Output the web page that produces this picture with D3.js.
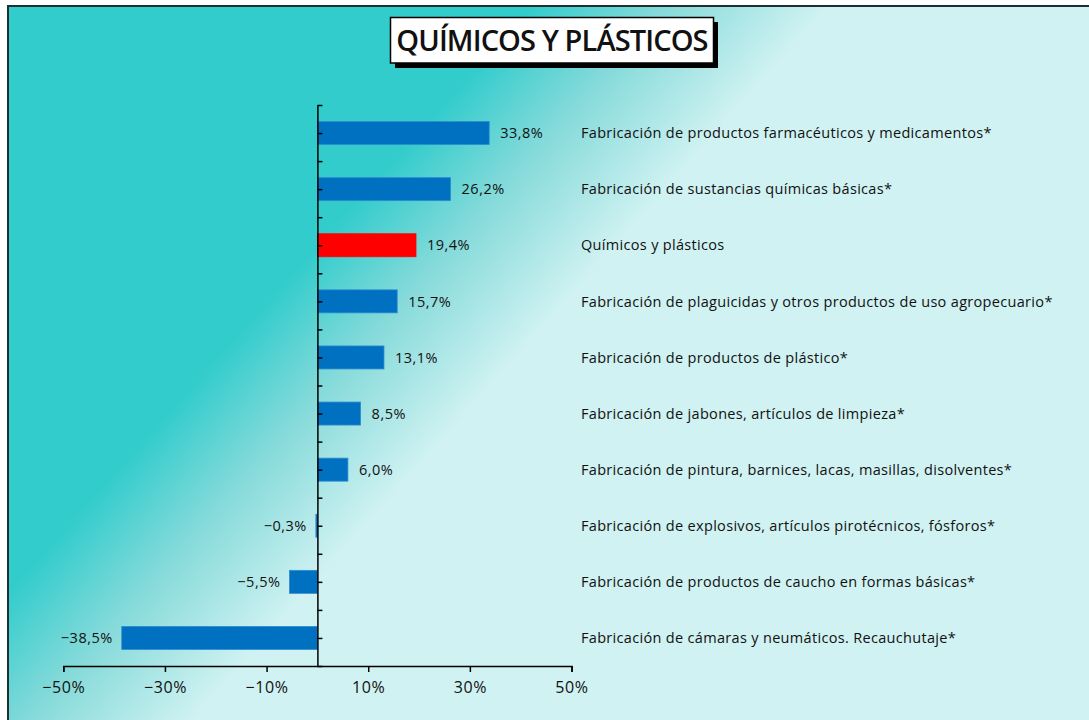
<!DOCTYPE html>
<html>
<head>
<meta charset="utf-8">
<script src="https://cdn.jsdelivr.net/npm/d3@7/dist/d3.min.js"></script>
<style>
  html, body { margin: 0; padding: 0; background: #fff; }
  svg { display: block; }
  text { font-family: "Open Sans", "Noto Sans", sans-serif; fill: #111; }
</style>
</head>
<body>
<svg id="chart" width="1089" height="720"></svg>
<script>
const categories = [
  "Fabricación de productos farmacéuticos y medicamentos*",
  "Fabricación de sustancias químicas básicas*",
  "Químicos y plásticos",
  "Fabricación de plaguicidas y otros productos de uso agropecuario*",
  "Fabricación de productos de plástico*",
  "Fabricación de jabones, artículos de limpieza*",
  "Fabricación de pintura, barnices, lacas, masillas, disolventes*",
  "Fabricación de explosivos, artículos pirotécnicos, fósforos*",
  "Fabricación de productos de caucho en formas básicas*",
  "Fabricación de cámaras y neumáticos. Recauchutaje*"
];
const values = [33.8, 26.2, 19.4, 15.7, 13.1, 8.5, 6.0, -0.3, -5.5, -38.5];
const highlighted = ["Químicos y plásticos"];
const xTicks = [-50, -30, -10, 10, 30, 50];
const title = "QUÍMICOS Y PLÁSTICOS";

const W = 1089, H = 720;
const svg = d3.select("#chart");
const defs = svg.append("defs");

const grad = defs.append("linearGradient")
  .attr("id", "bg").attr("gradientUnits", "userSpaceOnUse")
  .attr("x1", 300).attr("y1", 266).attr("x2", 466).attr("y2", 414);
grad.append("stop").attr("offset", 0).attr("stop-color", "#33CCCC");
grad.append("stop").attr("offset", 0.45).attr("stop-color", "#86DADA");
grad.append("stop").attr("offset", 1).attr("stop-color", "#D0F2F2");

// background
svg.append("rect").attr("x", 8).attr("y", 6).attr("width", W - 8).attr("height", H - 6)
  .attr("fill", "url(#bg)");
svg.append("path").attr("d", `M8,${H} L8,6 L${W},6`).attr("fill", "none")
  .attr("stroke", "#1f2f2f").attr("stroke-width", 2);

const fmt = d3.formatLocale({decimal: ",", thousands: ".", grouping: [3], currency: ["", ""], minus: "\u2212"});
const fmtVal = fmt.format(".1f");
const fmtTick = fmt.format("d");

const x = d3.scaleLinear().domain([-50, 50]).range([63.3, 571.5]);
const y = d3.scaleBand().domain(categories).range([105, 666]).paddingInner(0.59).paddingOuter(0.295);
const yTicks = d3.scaleLinear().domain([0, categories.length]).range([105, 666]);

// bars
svg.append("g").selectAll("rect").data(values).join("rect")
  .attr("x", d => x(Math.min(0, d)))
  .attr("width", d => Math.abs(x(d) - x(0)))
  .attr("y", (d, i) => y(categories[i]))
  .attr("height", y.bandwidth())
  .attr("fill", (d, i) => highlighted.includes(categories[i]) ? "#FF0000" : "#0070C0")
  .attr("stroke", (d, i) => highlighted.includes(categories[i]) ? "#FF0000" : "#2f8bd0")
  .attr("stroke-width", 0.8);

// x axis
const xAxis = svg.append("g").attr("transform", "translate(0,666)")
  .call(d3.axisBottom(x).tickValues(xTicks).tickSize(6).tickSizeOuter(6).tickPadding(10)
    .tickFormat(d => fmtTick(d) + "%"));
xAxis.select(".domain").attr("stroke", "#000").attr("stroke-width", 1.5);
xAxis.selectAll(".tick line").attr("stroke", "#000").attr("stroke-width", 1.5);
xAxis.selectAll(".tick text").attr("font-size", 16).attr("fill", "#111")
  .attr("font-family", "'Open Sans', sans-serif").attr("letter-spacing", 0.6);

// y axis (zero line)
const yAxis = svg.append("g").attr("transform", `translate(${x(0)},0)`)
  .call(d3.axisRight(yTicks).tickValues(d3.range(0, categories.length + 0.5, 0.5))
    .tickSize(5).tickSizeOuter(0).tickFormat(""));
yAxis.select(".domain").attr("stroke", "#000").attr("stroke-width", 1.5);
yAxis.selectAll(".tick line").attr("stroke", "#000").attr("stroke-width", 1.5);

// value labels
svg.append("g").selectAll("text").data(values).join("text")
  .attr("x", d => d >= 0 ? x(d) + 11 : x(d) - 9)
  .attr("y", (d, i) => y(categories[i]) + y.bandwidth() / 2)
  .attr("dy", "0.36em")
  .attr("text-anchor", d => d >= 0 ? "start" : "end")
  .attr("font-size", 14.5).attr("letter-spacing", 0.5)
  .text(d => fmtVal(d) + "%");

// category labels
svg.append("g").selectAll("text").data(categories).join("text")
  .attr("x", 581)
  .attr("y", d => y(d) + y.bandwidth() / 2)
  .attr("dy", "0.36em")
  .attr("font-size", 14.5).attr("letter-spacing", 0.32)
  .text(d => d);

// title box
svg.append("rect").attr("x", 395).attr("y", 22).attr("width", 323).attr("height", 46).attr("fill", "#000");
svg.append("rect").attr("x", 390.5).attr("y", 17.5).attr("width", 323).attr("height", 45.5)
  .attr("fill", "#fff").attr("stroke", "#000").attr("stroke-width", 1.5);
svg.append("text").attr("x", 552).attr("y", 40.5).attr("dy", "0.36em")
  .attr("text-anchor", "middle").attr("font-size", 29).attr("font-weight", 600).attr("fill", "#000")
  .attr("font-family", "'Open Sans', sans-serif").attr("letter-spacing", -0.9)
  .text(title);
</script>
</body>
</html>
